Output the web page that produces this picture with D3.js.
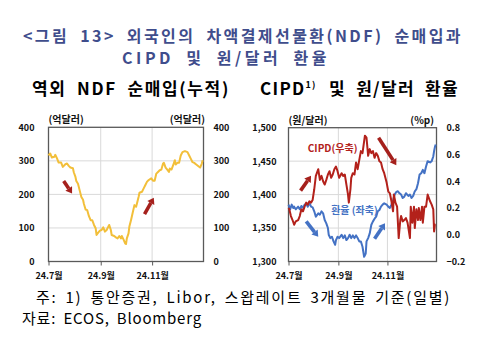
<!DOCTYPE html>
<html><head><meta charset="utf-8">
<script src="https://cdn.jsdelivr.net/npm/d3@7"></script>
<style>
html,body{margin:0;padding:0;background:#fff;}
svg{display:block;font-family:"Noto Sans CJK KR","Noto Sans",sans-serif;}
</style></head>
<body>
<svg id="c" width="488" height="338"></svg>
<script>
// ---------- data ----------
const ndfDates = ["2024-07-01","2024-07-03","2024-07-05","2024-07-08","2024-07-09","2024-07-11","2024-07-13","2024-07-16","2024-07-18","2024-07-21","2024-07-23","2024-07-25","2024-07-27","2024-07-30","2024-07-31","2024-08-02","2024-08-03","2024-08-05","2024-08-07","2024-08-09","2024-08-11","2024-08-12","2024-08-14","2024-08-16","2024-08-18","2024-08-20","2024-08-22","2024-08-24","2024-08-26","2024-08-27","2024-08-29","2024-08-31","2024-09-02","2024-09-04","2024-09-06","2024-09-08","2024-09-10","2024-09-11","2024-09-13","2024-09-14","2024-09-17","2024-09-19","2024-09-21","2024-09-23","2024-09-25","2024-09-26","2024-09-28","2024-09-30","2024-10-01","2024-10-02","2024-10-04","2024-10-05","2024-10-07","2024-10-09","2024-10-11","2024-10-13","2024-10-14","2024-10-16","2024-10-17","2024-10-20","2024-10-22","2024-10-24","2024-10-26","2024-10-28","2024-10-31","2024-11-02","2024-11-04","2024-11-06","2024-11-08","2024-11-10","2024-11-12","2024-11-14","2024-11-15","2024-11-17","2024-11-19","2024-11-21","2024-11-22","2024-11-24","2024-11-26","2024-11-28","2024-11-29","2024-12-01","2024-12-03","2024-12-05","2024-12-07","2024-12-10","2024-12-13","2024-12-15","2024-12-17","2024-12-19","2024-12-21","2024-12-23","2024-12-26","2024-12-28","2024-12-30","2024-12-31"];
const ndfValues = [316,322,310,312,318,308,295,295,282,290,292,285,280,278,266,252,240,232,212,192,184,172,155,153,135,123,123,109,99,79,86,92,94,102,89,94,104,109,94,79,76,72,69,76,69,76,66,54,52,69,84,104,124,146,168,163,173,193,205,208,218,228,238,243,248,241,241,262,267,272,274,292,294,280,274,267,277,274,287,302,289,294,294,316,326,329,326,316,306,296,294,290,284,280,292,302];

const fxDates = ["2024-07-01","2024-07-02","2024-07-03","2024-07-05","2024-07-07","2024-07-08","2024-07-10","2024-07-13","2024-07-15","2024-07-17","2024-07-19","2024-07-21","2024-07-23","2024-07-25","2024-07-27","2024-07-29","2024-07-31","2024-08-02","2024-08-04","2024-08-07","2024-08-09","2024-08-11","2024-08-13","2024-08-15","2024-08-17","2024-08-19","2024-08-20","2024-08-22","2024-08-24","2024-08-26","2024-08-28","2024-08-29","2024-08-31","2024-09-02","2024-09-05","2024-09-07","2024-09-09","2024-09-11","2024-09-13","2024-09-15","2024-09-17","2024-09-19","2024-09-21","2024-09-23","2024-09-25","2024-09-27","2024-09-29","2024-10-01","2024-10-03","2024-10-05","2024-10-06","2024-10-08","2024-10-10","2024-10-12","2024-10-14","2024-10-16","2024-10-18","2024-10-20","2024-10-22","2024-10-24","2024-10-26","2024-10-28","2024-10-31","2024-11-02","2024-11-04","2024-11-06","2024-11-08","2024-11-10","2024-11-12","2024-11-14","2024-11-16","2024-11-18","2024-11-20","2024-11-22","2024-11-24","2024-11-27","2024-11-29","2024-12-01","2024-12-03","2024-12-05","2024-12-07","2024-12-09","2024-12-11","2024-12-13","2024-12-15","2024-12-17","2024-12-19","2024-12-21","2024-12-24","2024-12-26","2024-12-28","2024-12-29","2024-12-30","2024-12-31"];
const fxValues = [1385,1382,1378,1385,1380,1382,1378,1382,1378,1383,1380,1385,1386,1382,1388,1382,1381,1375,1367,1372,1370,1375,1372,1362,1357,1350,1340,1335,1337,1330,1325,1332,1337,1335,1340,1335,1339,1332,1335,1340,1335,1339,1335,1339,1335,1330,1330,1322,1307,1312,1330,1335,1342,1355,1360,1364,1367,1375,1377,1382,1385,1387,1385,1382,1380,1385,1392,1400,1404,1405,1402,1400,1395,1397,1402,1398,1400,1395,1398,1405,1408,1417,1430,1432,1437,1432,1442,1450,1448,1450,1457,1465,1471,1475];

const cipdDates = ["2024-07-01","2024-07-02","2024-07-04","2024-07-06","2024-07-08","2024-07-10","2024-07-13","2024-07-15","2024-07-17","2024-07-19","2024-07-21","2024-07-23","2024-07-25","2024-07-27","2024-07-29","2024-07-31","2024-08-02","2024-08-04","2024-08-07","2024-08-09","2024-08-11","2024-08-13","2024-08-15","2024-08-17","2024-08-19","2024-08-21","2024-08-23","2024-08-25","2024-08-27","2024-08-29","2024-08-31","2024-09-02","2024-09-05","2024-09-07","2024-09-09","2024-09-11","2024-09-13","2024-09-14","2024-09-16","2024-09-17","2024-09-19","2024-09-21","2024-09-23","2024-09-25","2024-09-27","2024-09-29","2024-10-01","2024-10-04","2024-10-06","2024-10-08","2024-10-10","2024-10-12","2024-10-14","2024-10-16","2024-10-18","2024-10-20","2024-10-22","2024-10-24","2024-10-26","2024-10-28","2024-10-31","2024-11-02","2024-11-04","2024-11-06","2024-11-08","2024-11-09","2024-11-11","2024-11-13","2024-11-15","2024-11-17","2024-11-18","2024-11-20","2024-11-22","2024-11-24","2024-11-26","2024-11-29","2024-11-30","2024-12-02","2024-12-04","2024-12-05","2024-12-07","2024-12-09","2024-12-10","2024-12-12","2024-12-14","2024-12-15","2024-12-17","2024-12-19","2024-12-21","2024-12-24","2024-12-26","2024-12-28","2024-12-29","2024-12-30","2024-12-31"];
const cipdValues = [0.20,0.19,0.14,0.11,0.075,0.10,0.11,0.14,0.19,0.175,0.21,0.24,0.225,0.25,0.24,0.26,0.34,0.44,0.49,0.41,0.44,0.40,0.375,0.41,0.45,0.475,0.425,0.45,0.49,0.51,0.475,0.425,0.46,0.44,0.45,0.375,0.30,0.24,0.34,0.425,0.46,0.45,0.54,0.49,0.56,0.625,0.61,0.74,0.725,0.59,0.64,0.61,0.625,0.575,0.61,0.59,0.55,0.54,0.49,0.46,0.39,0.325,0.31,0.25,0.175,0.30,0.24,0.21,-0.025,0.11,0.14,0.10,0.11,0.125,0.09,-0.025,0.21,0.09,0.21,0.05,0.19,0.11,0.20,0.11,0.21,0.09,0.21,0.21,0.30,0.25,0.225,0.19,0.025,0.075,0.075];

const ndfTicks = [0,100,200,300,400];
const fxTicks = [1300,1350,1400,1450,1500];
const cipdTicks = [-0.2,0,0.2,0.4,0.6,0.8];
const monthTicks = ["2024-07-01","2024-09-01","2024-11-01"];
const monthLabels = ["24.7월","24.9월","24.11월"];
const dateDomain = ["2024-07-01","2025-01-01"];

// annotation arrows: [startDate, startVal, endDate, endVal]
const ndfArrows = [["2024-07-19",240,"2024-07-29",203],["2024-10-23",141,"2024-11-03",190]];
const redArrows = [["2024-07-16",1406,"2024-07-29",1428],["2024-10-21",1485,"2024-11-12",1444]];
const blueArrows = [["2024-07-23",1360,"2024-08-07",1337],["2024-10-16",1334,"2024-10-29",1357]];

// ---------- drawing ----------
const svg = d3.select("#c");
const P = d3.timeParse("%Y-%m-%d");
const FONT = '"Noto Sans CJK KR","Noto Sans",sans-serif';
const TITLE = "#3f4d8c", YEL = "#f2bf3a", RED = "#b3211b", BLUE = "#4472c4", ARED = "#a5201c";
const GRID = "#d9d9d9", AX = "#595959", TXT = "#111";

// fixed font size and word gap; letter spacing absorbs the rest so the text spans a given width
function fitText(t, len, ws) {
  const s = t.text();
  const chars = s.length;
  t.attr("word-spacing", ws).attr("letter-spacing", 0);
  const w = t.node().getComputedTextLength();
  t.attr("letter-spacing", (len - w) / chars);
}
function txt(x, y, s, size, weight, color, len, ws) {
  const t = svg.append("text").attr("x", x).attr("y", y).text(s)
    .attr("font-size", size).attr("font-weight", weight).attr("fill", color);
  fitText(t, len, ws);
  return t;
}
txt(23, 41.5, "<그림 13> 외국인의 차액결제선물환(NDF) 순매입과", 16, 700, TITLE, 440, 5);
txt(122, 63.5, "CIPD 및 원/달러 환율", 16, 700, TITLE, 208, 5);
txt(32, 95, "역외 NDF 순매입(누적)", 17, 700, "#000", 198, 5);
const st = svg.append("text").attr("x", 260).attr("y", 95).attr("font-size", 17).attr("font-weight", 700).attr("fill", "#000");
st.append("tspan").text("CIPD");
st.append("tspan").text("1)").attr("font-size", 9).attr("dy", -7);
st.append("tspan").text(" 및 원/달러 환율").attr("dy", 7).attr("dx", 2);
fitText(st, 197, 5);

txt(36, 303, "주: 1) 통안증권, Libor, 스왑레이트 3개월물 기준(일별)", 15, 400, "#000", 415, 3);
txt(22, 324, "자료: ECOS, Bloomberg", 15, 400, "#000", 180, 3);

function drawPanel(o) {
  const g = svg.append("g");
  const x = d3.scaleTime().domain(dateDomain.map(P)).range([o.x0, o.x1]);
  const yL = d3.scaleLinear().domain(o.leftDomain).range([o.y1, o.y0]);
  const yR = d3.scaleLinear().domain(o.rightDomain).range([o.y1, o.y0]);
  // grid
  g.selectAll(".hg").data(o.leftTicks.slice(1, -1)).join("line")
    .attr("x1", o.x0).attr("x2", o.x1).attr("y1", d => yL(d)).attr("y2", d => yL(d))
    .attr("stroke", GRID).attr("stroke-width", 1);
  g.selectAll(".vg").data(monthTicks.slice(1).map(P)).join("line")
    .attr("x1", d => x(d)).attr("x2", d => x(d)).attr("y1", o.y0).attr("y2", o.y1)
    .attr("stroke", GRID).attr("stroke-width", 1);
  // frame
  g.append("rect").attr("x", o.x0).attr("y", o.y0).attr("width", o.x1 - o.x0).attr("height", o.y1 - o.y0)
    .attr("fill", "none").attr("stroke", AX).attr("stroke-width", 1.3);
  // axes
  const axL = d3.axisLeft(yL).tickValues(o.leftTicks).tickSize(0).tickPadding(o.padL).tickFormat(o.fmtL);
  const axR = d3.axisRight(yR).tickValues(o.rightTicks).tickSize(0).tickPadding(o.padR).tickFormat(o.fmtR);
  const axB = d3.axisBottom(x).tickValues(monthTicks.map(P)).tickSize(4).tickPadding(7)
    .tickFormat((d, i) => monthLabels[i]);
  [g.append("g").attr("transform", `translate(${o.x0},0)`).call(axL),
   g.append("g").attr("transform", `translate(${o.x1},0)`).call(axR),
   g.append("g").attr("transform", `translate(0,${o.y1})`).call(axB)].forEach(a => {
    a.select(".domain").remove();
    a.selectAll("text").attr("font-family", FONT).attr("font-size", 9).attr("font-weight", 700).attr("fill", TXT);
    a.selectAll("line").attr("stroke", AX);
  });
  // units
  g.append("text").attr("x", o.x0).attr("y", o.y0 - 4).text(o.unitL).attr("font-size", 10).attr("font-weight", 700).attr("fill", TXT);
  g.append("text").attr("x", o.unitRx).attr("y", o.y0 - 4).text(o.unitR).attr("font-size", 10).attr("font-weight", 700).attr("fill", TXT).attr("text-anchor", "end");
  return { g, x, yL, yR };
}

function arrow(g, x, y, a, color) {
  const x1 = x(P(a[0])), y1 = y(a[1]), x2 = x(P(a[2])), y2 = y(a[3]);
  const dx = x2 - x1, dy = y2 - y1, L = Math.hypot(dx, dy), ux = dx / L, uy = dy / L;
  const hl = 6, hw = 4;
  const bx = x2 - ux * hl, by = y2 - uy * hl;
  g.append("line").attr("x1", x1).attr("y1", y1).attr("x2", bx).attr("y2", by)
    .attr("stroke", color).attr("stroke-width", 3.6);
  g.append("path").attr("d", `M${x2},${y2}L${bx - uy * hw},${by + ux * hw}L${bx + uy * hw},${by - ux * hw}Z`)
    .attr("fill", color);
}

// left panel
const A = drawPanel({x0: 48.5, x1: 203.5, y0: 127.3, y1: 261.5, leftDomain: [0, 400], rightDomain: [0, 400],
  leftTicks: ndfTicks, rightTicks: ndfTicks, fmtL: d3.format("d"), fmtR: d3.format("d"), padL: 14, padR: 10,
  unitL: "(억달러)", unitR: "(억달러)", unitRx: 205});
const ndf = ndfDates.map((d, i) => [P(d), ndfValues[i]]);
A.g.append("path").datum(ndf).attr("fill", "none").attr("stroke", YEL).attr("stroke-width", 2)
  .attr("stroke-linejoin", "round").attr("d", d3.line().x(d => A.x(d[0])).y(d => A.yL(d[1])));
ndfArrows.forEach(a => arrow(A.g, A.x, A.yL, a, ARED));

// right panel
const B = drawPanel({x0: 288.5, x1: 436.5, y0: 127.7, y1: 261.5, leftDomain: [1300, 1500], rightDomain: [-0.2, 0.8],
  leftTicks: fxTicks, rightTicks: cipdTicks, fmtL: d3.format(","), fmtR: d3.format(".1f"), padL: 12, padR: 10,
  unitL: "(원/달러)", unitR: "(%p)", unitRx: 434});
const fx = fxDates.map((d, i) => [P(d), fxValues[i]]);
const cipd = cipdDates.map((d, i) => [P(d), cipdValues[i]]);
B.g.append("path").datum(fx).attr("fill", "none").attr("stroke", BLUE).attr("stroke-width", 2)
  .attr("stroke-linejoin", "round").attr("d", d3.line().x(d => B.x(d[0])).y(d => B.yL(d[1])));
B.g.append("path").datum(cipd).attr("fill", "none").attr("stroke", RED).attr("stroke-width", 2)
  .attr("stroke-linejoin", "round").attr("d", d3.line().x(d => B.x(d[0])).y(d => B.yR(d[1])));
redArrows.forEach(a => arrow(B.g, B.x, B.yL, a, ARED));
blueArrows.forEach(a => arrow(B.g, B.x, B.yL, a, BLUE));
B.g.append("text").attr("x", B.x(P("2024-07-25"))).attr("y", B.yL(1463)).text("CIPD(우축)")
  .attr("font-size", 10).attr("font-weight", 700).attr("fill", RED);
B.g.append("text").attr("x", B.x(P("2024-08-23"))).attr("y", B.yL(1371)).text("환율 (좌축)")
  .attr("font-size", 10).attr("font-weight", 700).attr("fill", BLUE);
</script>
</body></html>
